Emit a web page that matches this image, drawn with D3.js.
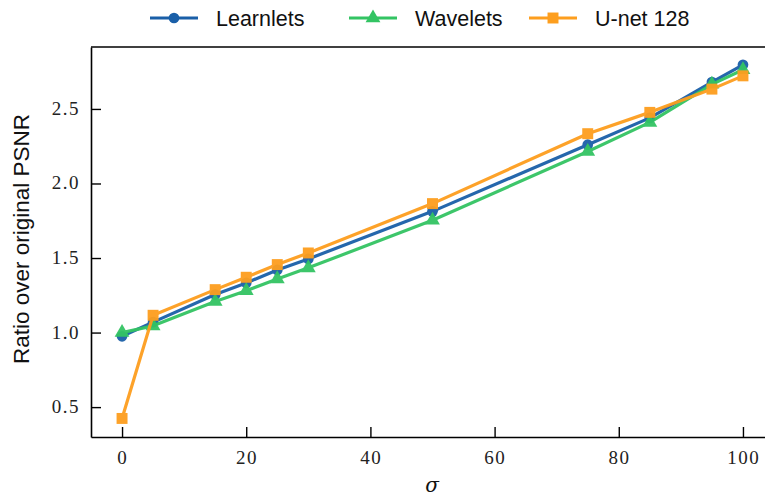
<!DOCTYPE html>
<html><head><meta charset="utf-8">
<script src="https://cdn.jsdelivr.net/npm/d3@7"></script>
<style>body{margin:0;background:#fff}svg{display:block}
text.tl{font-family:"Liberation Serif",serif;font-size:19px;letter-spacing:1.5px;fill:#222}</style>
</head><body>
<script>
const sigma = [0, 5, 15, 20, 25, 30, 50, 75, 85, 95, 100];
const learnlets = [0.975, 1.07, 1.255, 1.333, 1.42, 1.494, 1.813, 2.26, 2.44, 2.68, 2.796];
const wavelets  = [1.0, 1.045, 1.208, 1.281, 1.36, 1.434, 1.753, 2.215, 2.41, 2.665, 2.763];
const unet      = [0.424, 1.116, 1.288, 1.371, 1.456, 1.534, 1.865, 2.334, 2.477, 2.633, 2.722];
const seriesNames = ["Learnlets", "Wavelets", "U-net 128"];
const xTicks = [0, 20, 40, 60, 80, 100];
const yTicks = [0.5, 1.0, 1.5, 2.0, 2.5];

const W = 765, H = 498;
const svg = d3.select("body").append("svg").attr("width", W).attr("height", H);
const x = d3.scaleLinear().domain([-5, 105]).range([91, 774]);
const y = d3.scaleLinear().domain([0.2995, 2.9155]).range([437, 47]);

const series = [
  {name: seriesNames[0], vals: learnlets, color: "#1a5fa8", marker: "circle"},
  {name: seriesNames[1], vals: wavelets,  color: "#33c463", marker: "triangle"},
  {name: seriesNames[2], vals: unet,      color: "#fd9e1e", marker: "square"}
];
const symType = {circle: d3.symbolCircle, triangle: d3.symbolTriangle, square: d3.symbolSquare};
const symSize = {circle: 90, triangle: 95, square: 120};

// axes (lines + ticks from d3 axis, labels drawn as serif text)
const xAxis = d3.axisBottom(x).tickValues(xTicks).tickSizeInner(-10).tickSizeOuter(0).tickFormat("");
const yAxis = d3.axisLeft(y).tickValues(yTicks).tickSizeInner(-10).tickSizeOuter(0).tickFormat("");
const gx = svg.append("g").attr("transform", "translate(0,437)").call(xAxis);
const gy = svg.append("g").attr("transform", "translate(91,0)").call(yAxis);
[gx, gy].forEach(g => {
  g.select(".domain").attr("stroke", "#000").attr("stroke-width", 1.6);
  g.selectAll(".tick line").attr("stroke", "#000").attr("stroke-width", 1.4);
  g.selectAll(".tick text").remove();
});
svg.selectAll("text.xl").data(xTicks).enter().append("text").attr("class", "tl")
  .attr("x", d => x(d) + 0.75).attr("y", 464).attr("text-anchor", "middle").text(d3.format("d"));
svg.selectAll("text.yl").data(yTicks).enter().append("text").attr("class", "tl")
  .attr("x", 80).attr("y", d => y(d) + 6).attr("text-anchor", "end").text(d3.format(".1f"));

// top border
svg.append("line").attr("x1", 91).attr("x2", 774).attr("y1", 47).attr("y2", 47).attr("stroke", "#000").attr("stroke-width", 1.6);

const line = d3.line().x((d, i) => x(sigma[i])).y(d => y(d));
series.forEach(s => {
  const g = svg.append("g").attr("opacity", 0.95);
  g.append("path").attr("d", line(s.vals)).attr("fill", "none").attr("stroke", s.color).attr("stroke-width", 3.2).attr("stroke-linejoin", "round");
  g.selectAll("path.m").data(s.vals).enter().append("path").attr("class", "m")
    .attr("transform", (d, i) => `translate(${x(sigma[i])},${y(d)})`)
    .attr("d", d3.symbol().type(symType[s.marker]).size(symSize[s.marker])())
    .attr("fill", s.color);
});

// labels
svg.append("text").attr("transform", "translate(29,239) rotate(-90)").attr("text-anchor", "middle")
  .style("font-family", "'Liberation Sans', sans-serif").style("font-size", "22.5px").attr("fill", "#111").text("Ratio over original PSNR");
svg.append("text").attr("x", 432).attr("y", 492).attr("text-anchor", "middle")
  .style("font-family", "'DejaVu Serif', serif").style("font-style", "italic").style("font-size", "20px").attr("fill", "#111").text("σ");

// legend
const legX = [150, 349, 529];
series.forEach((s, i) => {
  const g = svg.append("g").attr("transform", `translate(${legX[i]},18)`);
  g.append("line").attr("x1", 0).attr("x2", 48).attr("stroke", s.color).attr("stroke-width", 3.2);
  g.append("path").attr("transform", "translate(24,0)").attr("d", d3.symbol().type(symType[s.marker]).size(symSize[s.marker])()).attr("fill", s.color);
  g.append("text").attr("x", 66).attr("y", 7.5).style("font-family", "'Liberation Sans', sans-serif").style("font-size", "21.5px").attr("fill", "#111").text(s.name);
});
</script>
</body></html>
